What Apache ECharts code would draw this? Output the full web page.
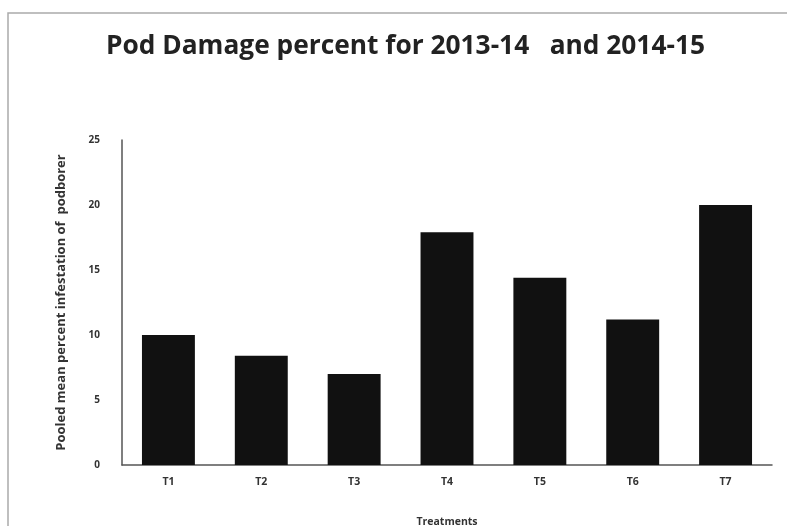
<!DOCTYPE html>
<html>
<head>
<meta charset="utf-8">
<script src="https://cdn.jsdelivr.net/npm/echarts@6/dist/echarts.min.js"></script>
<style>
  html, body { margin: 0; padding: 0; background: #fff; }
  #chart { width: 787px; height: 526px; }
</style>
</head>
<body>
<div id="chart"></div>
<script>
// treatments and pooled mean pod damage (%)
const treatments = ['T1', 'T2', 'T3', 'T4', 'T5', 'T6', 'T7']
const podDamage = [10, 8.4, 7.0, 17.9, 14.4, 11.2, 20]
const yTicks = { min: 0, max: 25, interval: 5 }

const chart = echarts.init(document.getElementById('chart'))
chart.setOption({
  animation: false,
  backgroundColor: '#fff',
  title: {
    text: 'Pod Damage percent for 2013-14   and 2014-15',
    left: 101, top: 29,
    textStyle: { fontFamily: 'Open Sans', fontWeight: 'bold', fontSize: 26.3, color: '#222' }
  },
  graphic: [{
    type: 'rect', shape: { x: 8, y: 13, width: 800, height: 530 },
    style: { fill: 'none', stroke: '#aaa', lineWidth: 1.5 }
  }],
  grid: { left: 122, right: 15, top: 140, bottom: 61, outerBoundsMode: 'none' },
  xAxis: {
    type: 'category',
    data: treatments,
    name: 'Treatments',
    nameLocation: 'middle',
    nameGap: 52,
    nameTextStyle: { fontFamily: 'Open Sans', fontWeight: 'bold', fontSize: 10.5, color: '#333' },
    axisLine: { lineStyle: { color: '#555', width: 1.5 } },
    axisTick: { show: false },
    axisLabel: { margin: 12, fontFamily: 'Open Sans', fontWeight: 'bold', fontSize: 10.5, color: '#333' }
  },
  yAxis: {
    type: 'value',
    min: yTicks.min, max: yTicks.max, interval: yTicks.interval,
    name: 'Pooled mean percent infestation of  podborer',
    nameLocation: 'middle',
    nameGap: 54,
    nameRotate: 90,
    nameTextStyle: { fontFamily: 'Open Sans', fontWeight: 'bold', fontSize: 13, color: '#333' },
    axisLine: { show: true, lineStyle: { color: '#555', width: 1.5 } },
    axisTick: { show: false },
    splitLine: { show: false },
    axisLabel: { margin: 22, fontFamily: 'Open Sans', fontWeight: 'bold', fontSize: 10, color: '#333' }
  },
  series: [{
    type: 'bar',
    data: podDamage,
    barWidth: '57%',
    itemStyle: { color: '#111' }
  }]
})
</script>
</body>
</html>
